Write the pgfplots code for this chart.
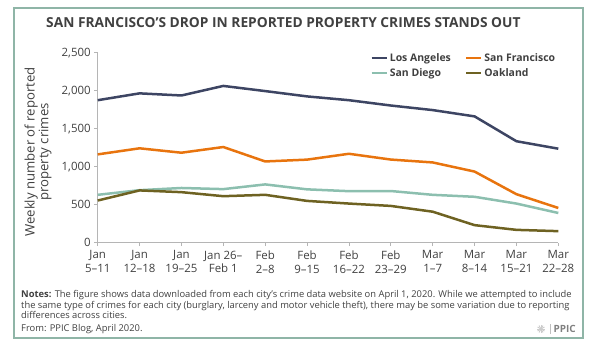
\documentclass[border=0pt]{standalone}
\usepackage{pgfplots}
\pgfplotsset{compat=1.18}
\usepackage{fontspec}
\setmainfont{Open Sans}
\definecolor{la}{HTML}{3D4563}
\definecolor{sf}{HTML}{E8740E}
\definecolor{sd}{HTML}{8CBFAF}
\definecolor{oak}{HTML}{6E6222}
\definecolor{framec}{HTML}{8FB5A7}
\definecolor{txt}{HTML}{404040}
\definecolor{axisgray}{HTML}{B5B5B5}
\begin{document}
\begin{tikzpicture}
\begin{scope}[x=1bp,y=1bp]
\useasboundingbox (0,0) rectangle (600,351);
\draw[framec, line width=2.5bp] (14,13) rectangle (583,343);
\node[anchor=west, inner sep=0pt, font=\bfseries\fontsize{13.8}{15}\selectfont, text=txt] at (46,328) {SAN FRANCISCO’S DROP IN REPORTED PROPERTY CRIMES STANDS OUT};
\node[rotate=90, align=center, inner sep=0pt, font=\fontsize{13.2}{12.5}\selectfont, text=txt] at (38,199) {Weekly number of reported\\property crimes};
\end{scope}
\begin{axis}[
  at={(97.7bp,108.3bp)}, anchor=south west,
  width=460.6bp, height=190bp, scale only axis,
  xmin=0, xmax=11, ymin=0, ymax=2500,
  axis x line*=bottom, axis y line*=left,
  axis line style={axisgray, line width=0.8bp, -},
  tick style={axisgray, line width=0.8bp},
  tick align=outside, major tick length=3.5bp,
  xtick={0,...,11},
  xticklabels={Jan\\5--11, Jan\\12--18, Jan\\19--25, Jan 26--\\Feb 1, Feb\\2--8, Feb\\9--15, Feb\\16--22, Feb\\23--29, Mar\\1--7, Mar\\8--14, Mar\\15--21, Mar\\22--28},
  xticklabel style={align=center, font=\fontsize{11.5}{14}\selectfont, text=txt, yshift=-1bp},
  ytick={0,500,...,2500},
  yticklabel style={font=\fontsize{11.5}{13}\selectfont, text=txt},
  /pgf/number format/assume math mode=true,
  /pgf/number format/1000 sep={,},
  legend style={at={(0.585,1.02)}, anchor=north west, draw=none, fill=none, font=\bfseries\fontsize{10.5}{12}\selectfont, text=txt, row sep=2bp, /tikz/every even column/.append style={column sep=12bp}},
  legend columns=2,
  legend cell align=left,
  legend image code/.code={\draw[#1, line width=2.5bp] (0bp,0bp) -- (15bp,0bp);},
  every axis plot/.append style={line width=2.5bp},
  clip=false,
]
\addplot[la] coordinates {(0,1875) (1,1965) (2,1937) (3,2063) (4,1995) (5,1925) (6,1875) (7,1805) (8,1745) (9,1662) (10,1335) (11,1237)};
\addlegendentry{Los Angeles}
\addplot[sf] coordinates {(0,1162) (1,1242) (2,1184) (3,1259) (4,1069) (5,1093) (6,1170) (7,1094) (8,1056) (9,936) (10,638) (11,457)};
\addlegendentry{San Francisco}
\addplot[sd] coordinates {(0,630) (1,691) (2,720) (3,705) (4,767) (5,702) (6,678) (7,680) (8,630) (9,604) (10,515) (11,391)};
\addlegendentry{San Diego}
\addplot[oak] coordinates {(0,555) (1,688) (2,665) (3,612) (4,630) (5,550) (6,515) (7,484) (8,408) (9,231) (10,169) (11,152)};
\addlegendentry{Oakland}
\end{axis}
\begin{scope}[x=1bp,y=1bp]
\node[anchor=north west, align=left, inner sep=0pt, font=\fontsize{9.4}{10.7}\selectfont, text=txt] at (21,61) {\textbf{Notes:} The figure shows data downloaded from each city’s crime data website on April 1, 2020. While we attempted to include\\the same type of crimes for each city (burglary, larceny and motor vehicle theft), there may be some variation due to reporting\\differences across cities.};
\node[anchor=west, inner sep=0pt, font=\fontsize{9.4}{10}\selectfont, text=txt] at (21,22) {From: PPIC Blog, April 2020.};
\node[anchor=east, inner sep=0pt, font=\bfseries\fontsize{10}{10}\selectfont, text=gray] at (576,22) {PPIC};
\draw[gray!50, line width=0.6bp] (550,17) -- (550,27);
\foreach \a in {0,30,...,330} {\draw[gray!40, line width=0.9bp] (541,22) -- ++(\a:4bp);}
\end{scope}
\end{tikzpicture}
\end{document}
